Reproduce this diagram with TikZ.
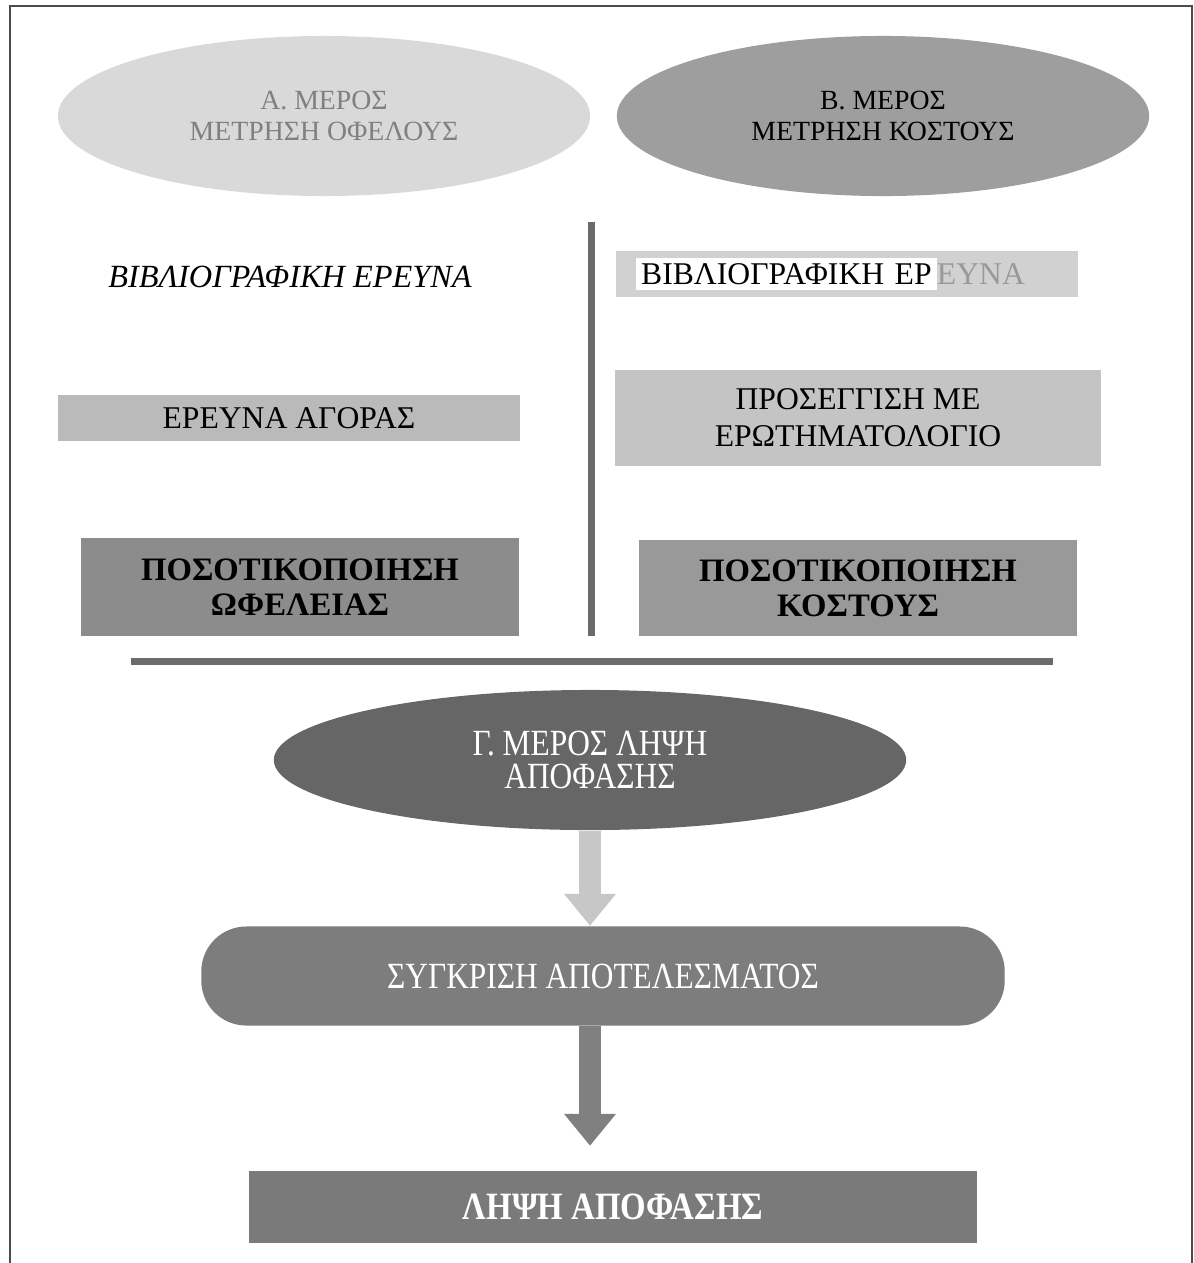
\documentclass[tikz,border=0pt]{standalone}
\usepackage{fontspec}
\setmainfont{Liberation Serif}
\newfontfamily\narrowserif[FakeStretch=0.85]{Liberation Serif}
\usetikzlibrary{shapes.geometric,arrows.meta,positioning}

\begin{document}
\begin{tikzpicture}[
    x=0.01cm, y=-0.01cm,
    txt/.style={font=\fontsize{9}{10.5}\selectfont, align=center},
    boldtxt/.style={font=\fontsize{9.3}{10}\selectfont\bfseries, align=center},
    tall/.style={font=\narrowserif\fontsize{10.5}{9.6}\selectfont, align=center, text=white},
    part/.style={ellipse, inner sep=0pt, minimum width=5.32cm, minimum height=1.6cm,
                 font=\fontsize{7.9}{8.6}\selectfont, align=center},
    panel/.style={rectangle, inner sep=0pt, txt},
    rule/.style={draw=black!58, line width=0.07cm},
    bigarrow/.style={line width=0.21cm, -{Triangle[width=0.5cm,length=0.32cm]}}
  ]
    \useasboundingbox (0,0) rectangle (1194,1263);

    % frame
    \draw[black!70, line width=0.6pt] (10,1263) -- (10,6) -- (1192,6) -- (1192,1263);

    %-----------------------------
    % A / B parts
    %-----------------------------
    \node[part, fill=black!15, text=black!50] (benefit) at (324,116)
      {Α. ΜΕΡΟΣ\\ΜΕΤΡΗΣΗ ΟΦΕΛΟΥΣ};
    \node[part, fill=black!38] (cost) at (883,116)
      {Β. ΜΕΡΟΣ\\ΜΕΤΡΗΣΗ ΚΟΣΤΟΥΣ};

    % left column (benefit)
    \node[txt, font=\fontsize{9.2}{10.5}\selectfont\itshape] (litA) at (290,277)
      {ΒΙΒΛΙΟΓΡΑΦΙΚΗ ΕΡΕΥΝΑ};
    \node[panel, fill=black!27, minimum width=4.62cm, minimum height=0.46cm] (marketA) at (289,418)
      {ΕΡΕΥΝΑ ΑΓΟΡΑΣ};
    \node[panel, boldtxt, fill=black!45, minimum width=4.37cm, minimum height=0.97cm] (quantA) at (300,587)
      {ΠΟΣΟΤΙΚΟΠΟΙΗΣΗ\\ΩΦΕΛΕΙΑΣ};

    % right column (cost)
    \node[panel, fill=black!18, minimum width=4.62cm, minimum height=0.46cm,
          text width=4.22cm, align=left] (litB) at (847,274)
      {{\fboxsep=1.5pt\colorbox{white}{ΒΙΒΛΙΟΓΡΑΦΙΚΗ ΕΡ}}\textcolor{black!40}{ΕΥΝΑ}};
    \node[panel, fill=black!23, minimum width=4.86cm, minimum height=0.96cm] (questB) at (858,418)
      {ΠΡΟΣΕΓΓΙΣΗ ΜΕ\\ΕΡΩΤΗΜΑΤΟΛΟΓΙΟ};
    \node[panel, boldtxt, fill=black!40, minimum width=4.38cm, minimum height=0.96cm] (quantB) at (858,588)
      {ΠΟΣΟΤΙΚΟΠΟΙΗΣΗ\\ΚΟΣΤΟΥΣ};

    % separators
    \draw[rule] (591,222) -- (591,636);
    \draw[rule] (131,661) -- (1053,661);

    %-----------------------------
    % C part: decision
    %-----------------------------
    \node[ellipse, tall, fill=black!60, inner sep=0pt, minimum width=6.32cm, minimum height=1.4cm] (decide) at (590,760)
      {Γ. ΜΕΡΟΣ ΛΗΨΗ\\ΑΠΟΦΑΣΗΣ};
    \node[rectangle, tall, rounded corners=0.45cm, fill=black!51, inner sep=0pt,
          minimum width=8.03cm, minimum height=0.99cm] (compare) at (603,976)
      {ΣΥΓΚΡΙΣΗ ΑΠΟΤΕΛΕΣΜΑΤΟΣ};
    \node[rectangle, tall, font=\narrowserif\fontsize{11}{12.2}\selectfont\bfseries, fill=black!52, inner sep=0pt,
          minimum width=7.27cm, minimum height=0.71cm] (decision) at (613,1207)
      {ΛΗΨΗ ΑΠΟΦΑΣΗΣ};

    % arrows
    \coordinate (spine) at (590,0);
    \draw[bigarrow, draw=black!22] (spine |- decide.south) -- (spine |- compare.north);
    \draw[bigarrow, draw=black!50, shorten >=0.25cm] (spine |- compare.south) -- (spine |- decision.north);

  \end{tikzpicture}
\end{document}
